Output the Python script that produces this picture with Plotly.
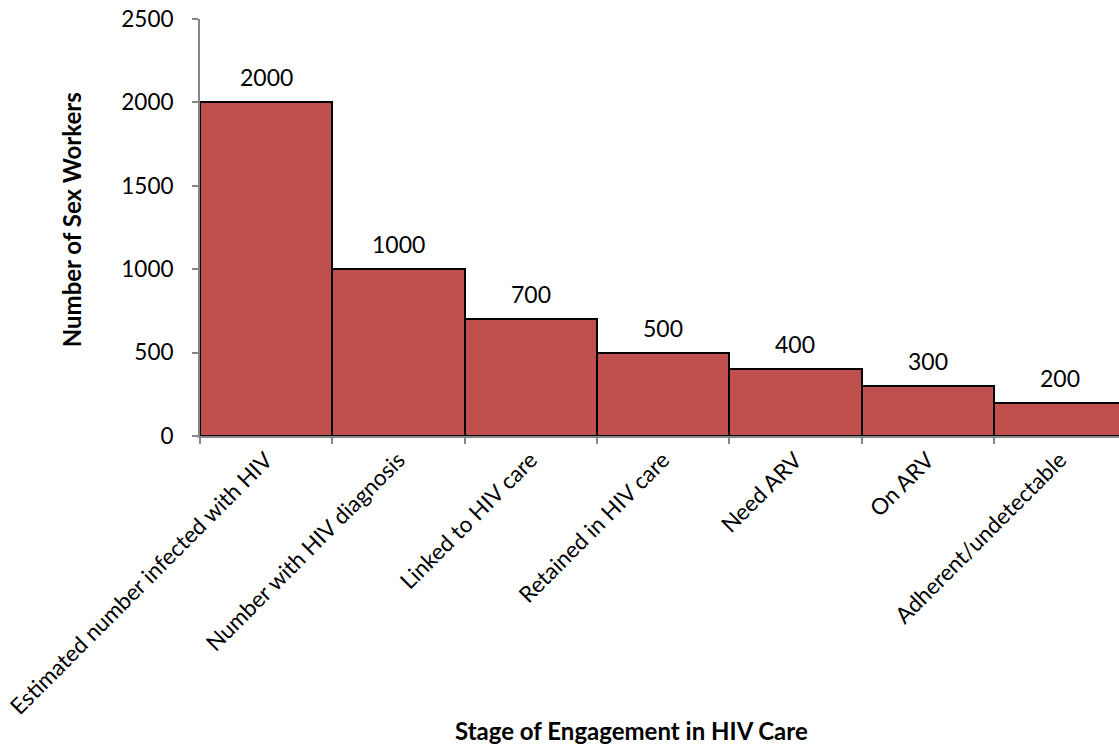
import plotly.graph_objects as go

categories = ["Estimated number infected with HIV", "Number with HIV diagnosis",
              "Linked to HIV care", "Retained in HIV care", "Need ARV", "On ARV",
              "Adherent/undetectable"]
values = [2000, 1000, 700, 500, 400, 300, 200]
y_ticks = [0, 500, 1000, 1500, 2000, 2500]
x_title = "Stage of Engagement in HIV Care"
y_title = "Number of Sex Workers"

FONT = "Lato"
fig = go.Figure(go.Bar(
    x=categories, y=values,
    marker=dict(color="#C0504D", line=dict(color="black", width=2)),
    cliponaxis=False,
))
annotations = [
    dict(x=c, y=v, xref="x", yref="y", text=str(v), showarrow=False,
         yanchor="middle", yshift=25, font=dict(family=FONT, size=23, color="black"))
    for c, v in zip(categories, values)
]
annotations.append(dict(x=0.469, y=-0.707, xref="paper", yref="paper", text="<b>" + x_title + "</b>",
                        showarrow=False, xanchor="center", yanchor="middle",
                        font=dict(family=FONT, size=24, color="black")))
annotations.append(dict(x=-0.139, y=0.518, xref="paper", yref="paper", text="<b>" + y_title + "</b>",
                        showarrow=False, xanchor="center", yanchor="middle", textangle=-90,
                        font=dict(family=FONT, size=24, color="black")))
fig.update_layout(
    width=1119, height=749,
    margin=dict(l=200, r=0, t=19, b=313),
    paper_bgcolor="white", plot_bgcolor="white",
    bargap=0, showlegend=False,
    font=dict(family=FONT, size=22, color="black"),
    annotations=annotations,
)
fig.update_xaxes(
    type="category", range=[-0.5, 6.446],
    tickangle=-45, tickson="boundaries", ticks="outside", ticklen=6,
    tickcolor="#868686", tickwidth=2,
    showline=True, linecolor="#868686", linewidth=2,
    showgrid=False, automargin=False,
    tickfont=dict(family=FONT, size=22.5),
)
fig.update_yaxes(
    range=[0, 2500], tickvals=y_ticks, ticks="outside", ticklen=6,
    tickcolor="#868686", tickwidth=2, ticklabelstandoff=14,
    showline=True, linecolor="#868686", linewidth=2,
    showgrid=False, zeroline=False, automargin=False,
    tickfont=dict(family=FONT, size=22.5),
)
fig.write_html("out.html")
